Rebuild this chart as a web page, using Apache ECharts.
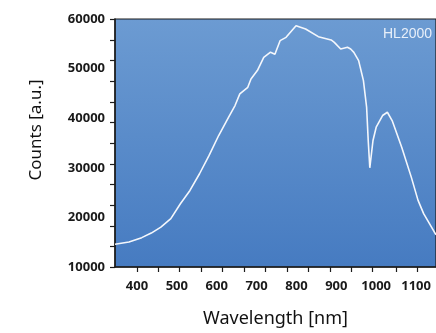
<!DOCTYPE html>
<html>
<head>
<meta charset="utf-8">
<script src="https://cdn.jsdelivr.net/npm/echarts@6/dist/echarts.min.js"></script>
<style>
  html, body { margin: 0; padding: 0; background: #fff; }
  #chart { width: 436px; height: 333px; }
</style>
</head>
<body>
<div id="chart"></div>
<script>
// spectrum
var wavelength = [345, 380, 412, 436, 460, 485, 509, 533, 557, 581, 605, 630, 646, 658, 678, 686, 702, 718, 735, 746, 759, 774, 799, 823, 855, 887, 895, 911, 928, 936, 944, 956, 960, 968, 976, 980, 984, 992, 1000, 1016, 1028, 1040, 1064, 1088, 1105, 1119, 1150];
var counts = [14570, 15030, 15920, 16840, 18050, 19740, 22760, 25440, 28800, 32490, 36510, 40200, 42550, 44900, 46230, 47920, 49600, 52270, 53300, 52900, 55630, 56300, 58650, 57990, 56440, 55780, 55290, 53960, 54290, 53960, 53280, 51610, 50260, 47580, 42210, 35500, 30000, 35500, 38180, 40540, 41200, 39530, 34160, 28120, 23430, 20750, 16500];

var xLabels = [400, 500, 600, 700, 800, 900, 1000, 1100];
var xTicks = [400, 453, 507, 561, 614, 668, 722, 776, 829, 884, 937, 991, 1050, 1103];
var yTicks = [10000, 14200, 18300, 22500, 26700, 30800, 35000, 39200, 43300, 47500, 51700, 55800, 60000];

var ink = '#1c1c1c';
var labelFont = '"Noto Sans", sans-serif';
var plain = function (v) { return String(v); };

var chart = echarts.init(document.getElementById('chart'), null, { renderer: 'canvas' });
chart.setOption({
  animation: false,
  grid: {
    left: 115,
    top: 19,
    bottom: 66,
    right: -12,
    show: true,
    borderColor: ink,
    borderWidth: 1.2,
    backgroundColor: {
      type: 'linear', x: 0, y: 0, x2: 0, y2: 1,
      colorStops: [
        { offset: 0, color: '#6c9bd2' },
        { offset: 1, color: '#467bc1' }
      ]
    }
  },
  graphic: [{
    type: 'text',
    left: 383,
    top: 27,
    style: {
      text: 'HL2000',
      fill: '#e8eff9',
      font: '14px "Liberation Sans", Arial, sans-serif'
    }
  }],
  xAxis: {
    type: 'value',
    min: 345,
    max: 1150,
    name: 'Wavelength [nm]',
    nameLocation: 'middle',
    nameGap: 43,
    nameTextStyle: { color: '#111', fontSize: 18, fontFamily: labelFont },
    axisLine: { show: true, lineStyle: { color: ink, width: 1.5 } },
    axisTick: { show: true, customValues: xTicks, length: 5, lineStyle: { color: ink, width: 1.2 } },
    axisLabel: { customValues: xLabels, formatter: plain, margin: 13, color: '#1a1a1a', fontSize: 13, fontWeight: 'bold', fontFamily: labelFont },
    splitLine: { show: false }
  },
  yAxis: {
    type: 'value',
    min: 10000,
    max: 60000,
    interval: 10000,
    name: 'Counts [a.u.]',
    nameLocation: 'middle',
    nameGap: 70,
    nameTextStyle: { color: '#111', fontSize: 17, fontFamily: labelFont, padding: [0, 0, 0, 26] },
    axisLine: { show: true, lineStyle: { color: ink, width: 1.5 } },
    axisTick: { show: true, customValues: yTicks, length: 5, lineStyle: { color: ink, width: 1.2 } },
    axisLabel: { formatter: plain, margin: 10, color: '#1a1a1a', fontSize: 13, fontWeight: 'bold', fontFamily: labelFont },
    splitLine: { show: false }
  },
  series: [{
    type: 'line',
    data: wavelength.map(function (w, i) { return [w, counts[i]]; }),
    symbol: 'none',
    lineStyle: { color: '#f4f7fc', width: 1.6 }
  }]
});
</script>
</body>
</html>
